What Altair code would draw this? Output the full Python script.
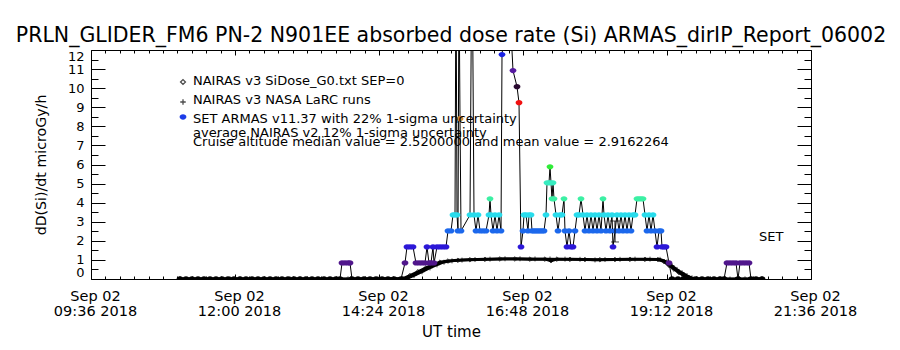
import altair as alt
import pandas as pd

FONT = "DejaVu Sans"

# ---------------- data ----------------
title_text = "PRLN_GLIDER_FM6 PN-2 N901EE absorbed dose rate (Si) ARMAS_dirIP_Report_06002"

# SET ARMAS v11.37 dose rate samples (UT, microGy/h)
armas_time = [
    "11:05", "11:11", "11:17", "11:23", "11:29", "11:35", "11:41", "11:47", "11:53", "11:59",
    "12:05", "12:11", "12:17", "12:23", "12:29", "12:35", "12:41", "12:47", "12:53", "12:59",
    "13:05", "13:11", "13:17", "13:23", "13:29", "13:35", "13:41", "13:45", "13:47", "13:50",
    "13:53", "13:55", "13:57", "14:03", "14:09", "14:15", "14:21", "14:27", "14:33", "14:39",
    "14:46", "14:50", "14:52", "14:55", "14:58", "15:01", "15:04", "15:07", "15:10", "15:12",
    "15:14", "15:16", "15:18", "15:19", "15:22", "15:25", "15:28", "15:31", "15:33", "15:36",
    "15:38", "15:40", "15:41", "15:42", "15:43", "15:44", "15:45", "15:46",
    "15:55", "15:57", "15:59", "16:01", "16:03", "16:05", "16:08", "16:11", "16:14", "16:15",
    "16:16", "16:18", "16:20", "16:22", "16:24", "16:26", "16:27", "16:34", "16:38", "16:42",
    "16:44", "16:46",
    "16:48", "16:49", "16:51", "16:53", "16:54", "16:56", "16:57", "16:59", "17:01", "17:03",
    "17:05", "17:07", "17:09", "17:11", "17:12", "17:14", "17:15", "17:16", "17:17", "17:18",
    "17:19", "17:21", "17:23", "17:25", "17:27", "17:29", "17:30", "17:32", "17:34", "17:36",
    "17:38", "17:40", "17:42", "17:44", "17:46", "17:48", "17:50", "17:52", "17:54", "17:56",
    "17:58", "18:00", "18:02", "18:04", "18:06", "18:08", "18:09", "18:11", "18:13", "18:15",
    "18:17", "18:18", "18:20", "18:22", "18:24", "18:26", "18:28", "18:30", "18:32", "18:34",
    "18:36", "18:38", "18:40", "18:42", "18:44", "18:46", "18:48", "18:50", "18:52", "18:54",
    "18:56", "18:58", "19:00", "19:02", "19:04", "19:06", "19:07", "19:09", "19:11", "19:14",
    "19:17", "19:23", "19:29", "19:35", "19:41", "19:47", "19:53", "19:59", "20:05", "20:09",
    "20:12", "20:15", "20:18", "20:21", "20:23", "20:25", "20:28", "20:31", "20:34", "20:36",
    "20:41", "20:47",
]
armas_dose = [
    0, 0, 0, 0, 0, 0, 0, 0, 0, 0,
    0, 0, 0, 0, 0, 0, 0, 0, 0, 0,
    0, 0, 0, 0, 0, 0, 0, 0, 0.84, 0.84,
    0.84, 0.84, 0, 0, 0, 0, 0, 0, 0, 0,
    0, 0.84, 1.68, 1.68, 1.68, 0.84, 0.84, 0.84, 0.84, 1.68,
    0.84, 0.84, 1.68, 0.84, 1.68, 1.68, 1.68, 1.68, 2.52, 2.52,
    3.36, 3.36, 16.80, 3.36, 2.52, 15.96, 8.40, 2.52,
    3.36, 18.48, 3.36, 2.52, 3.36, 2.52, 2.52, 2.52, 3.36, 4.20,
    3.36, 2.52, 3.36, 2.52, 3.36, 2.52, 11.76, 15.12, 10.92, 10.08,
    9.24, 1.68,
    2.52, 3.36, 3.36, 2.52, 3.36, 3.36, 2.52, 2.52, 2.52, 2.52,
    2.52, 2.52, 2.52, 3.36, 5.04, 5.04, 5.88, 5.04, 4.20, 5.04,
    4.20, 3.36, 2.52, 3.36, 3.36, 4.20, 2.52, 1.68, 2.52, 1.68,
    1.68, 2.52, 3.36, 3.36, 4.20, 3.36, 2.52, 3.36, 2.52, 3.36,
    2.52, 3.36, 2.52, 3.36, 2.52, 4.20, 3.36, 2.52, 3.36, 2.52,
    3.36, 1.68, 2.52, 3.36, 2.52, 3.36, 2.52, 3.36, 2.52, 3.36,
    2.52, 3.36, 3.36, 4.20, 4.20, 4.20, 4.20, 3.36, 2.52, 3.36,
    2.52, 3.36, 2.52, 1.68, 2.52, 2.52, 1.68, 1.68, 1.68, 0.84,
    0, 0, 0, 0, 0, 0, 0, 0, 0, 0,
    0.84, 0.84, 0.84, 0.84, 0, 0.84, 0.84, 0.84, 0.84, 0,
    0, 0,
]

# NAIRAS v3 SiDose_G0.txt SEP=0 (diamonds)
g0_time = ["11:05", "11:55", "12:55", "13:53", "14:48", "14:55", "15:03", "15:11", "15:18", "15:25",
           "15:33", "15:43", "15:55", "16:10", "16:25", "16:40", "16:55", "17:10", "17:16", "17:22",
           "17:35", "17:50", "18:05", "18:20", "18:35", "18:50", "19:03", "19:09", "19:14", "19:19",
           "19:24", "19:29", "19:34", "19:39", "20:05", "20:30", "20:47"]
g0_dose = [0.0, 0.0, 0.0, 0.0, 0.02, 0.18, 0.38, 0.58, 0.74, 0.88,
           0.94, 0.98, 1.01, 1.03, 1.05, 1.05, 1.04, 1.04, 0.96, 1.04,
           1.03, 1.02, 1.01, 1.02, 1.03, 1.03, 1.02, 0.92, 0.72, 0.52,
           0.34, 0.18, 0.06, 0.0, 0.0, 0.0, 0.0]

# NAIRAS v3 NASA LaRC runs (plus signs)
larc_time = ["11:05", "12:05", "13:05", "14:23", "14:52", "14:59", "15:07", "15:15", "15:22", "15:29",
             "15:37", "15:47", "16:00", "16:15", "16:30", "16:45", "17:00", "17:15", "17:30", "17:45",
             "18:00", "18:10", "18:25", "18:40", "18:55", "19:05", "19:12", "19:17", "19:22", "19:27",
             "19:32", "19:37", "19:42", "20:15", "20:47"]
larc_dose = [0.0, 0.0, 0.0, 0.0, 0.02, 0.18, 0.38, 0.58, 0.74, 0.88,
             0.95, 0.99, 1.02, 1.04, 1.06, 1.06, 1.05, 1.05, 1.04, 1.03,
             1.00, 1.02, 1.03, 1.04, 1.04, 1.03, 0.90, 0.70, 0.50, 0.33,
             0.18, 0.06, 0.0, 0.0, 0.0]

# average NAIRAS v2 with 12% 1-sigma uncertainty
nv2_time = ["18:20"]
nv2_mean = [2.49]
nv2_low = [1.94]
nv2_high = [3.04]

legend_lines = [
    "NAIRAS v3 SiDose_G0.txt SEP=0",
    "NAIRAS v3 NASA LaRC runs",
    "SET ARMAS v11.37 with 22% 1-sigma uncertainty",
    "average NAIRAS v2 12% 1-sigma uncertainty",
    "Cruise altitude median value = 2.5200000 and mean value = 2.9162264",
]
set_label = "SET"

x_tick_times = ["09:36", "12:00", "14:24", "16:48", "19:12", "21:36"]
x_tick_date = "Sep 02"
x_tick_year = "2018"
y_ticks = list(range(0, 13))

# colour table for the ARMAS dose levels
dose_levels = ["0.00", "0.84", "1.68", "2.52", "3.36", "4.20", "5.04", "5.88", "8.40", "9.24",
               "10.08", "10.92", "11.76", "15.12", "15.96", "16.80", "18.48"]
level_colors = ["#000000", "#50168c", "#2c18d8", "#1c68ec", "#28dcec", "#3cf0a4", "#38ecc0", "#30ec38",
                "#d08838", "#f01010", "#2a0a30", "#561aa0", "#1a22e4", "#000000", "#000000", "#000000", "#000000"]


def tmin(s):
    h, m = s.split(":")
    return int(h) * 60 + int(m)


armas_df = pd.DataFrame({
    "t": [tmin(s) for s in armas_time],
    "v": armas_dose,
    "lvl": [f"{d:.2f}" for d in armas_dose],
    "i": list(range(len(armas_time))),
})
g0_df = pd.DataFrame({"t": [tmin(s) for s in g0_time], "v": g0_dose})
larc_df = pd.DataFrame({"t": [tmin(s) for s in larc_time], "v": larc_dose})
nv2_df = pd.DataFrame({"t": [tmin(s) for s in nv2_time], "v": nv2_mean, "lo": nv2_low, "hi": nv2_high})

x0 = tmin(x_tick_times[0])
x1 = tmin(x_tick_times[-1])
x_major = [tmin(s) for s in x_tick_times]
x_step = (x_major[1] - x_major[0]) / 10.0
x_minor = [x0 + k * x_step for k in range(0, 51) if k % 10 != 0]
y_minor = [k + 0.5 for k in range(0, 12)]

W, H = 720, 229
xs = alt.Scale(domain=[x0, x1], zero=False, nice=False)
ys = alt.Scale(domain=[0, 12], zero=False, nice=False)

ELLIPSE = "M-1,0A1,0.78,0,1,1,1,0A1,0.78,0,1,1,-1,0Z"
PLUS = "M-1,0L1,0M0,-1L0,1"

axis_df = pd.DataFrame({"t": [x0], "v": [0]})


def axis_layer(xaxis, yaxis):
    return alt.Chart(axis_df).mark_point(opacity=0).encode(
        x=alt.X("t:Q", scale=xs, axis=xaxis),
        y=alt.Y("v:Q", scale=ys, axis=yaxis),
    )


def tick_axis(orient, values, size, offset):
    # ticks drawn from the opposite edge so that they point into the plot
    return alt.Axis(orient=orient, values=values, tickSize=size, offset=offset, labels=False,
                    domain=False, grid=False, tickColor="black", tickWidth=1, title=None, zindex=1)


label_layer = axis_layer(
    alt.Axis(orient="bottom", values=x_major, ticks=False, domain=False, grid=False,
             labelExpr=f"['{x_tick_date}', format(floor(datum.value/60),'02d') + ':' + format(datum.value % 60,'02d') + ' {x_tick_year}']",
             labelFont=FONT, labelFontSize=14.5, labelColor="black", labelPadding=10, labelLineHeight=15,
             labelBaseline="top", labelFlush=False, labelOverlap=False, labelOffset=4,
             title="UT time", titleFont=FONT, titleFontSize=15, titleFontWeight="normal", titleColor="black",
             titlePadding=7),
    alt.Axis(orient="left", values=y_ticks, ticks=False, domain=False, grid=False, format="d",
             labelFont=FONT, labelFontSize=13, labelColor="black", labelPadding=7, labelFlush=True,
             labelOverlap=False,
             title="dD(Si)/dt microGy/h", titleFont=FONT, titleFontSize=14.2, titleFontWeight="normal",
             titleColor="black", titlePadding=19),
)
# bottom edge & left edge ticks (pointing inward)
maj_a = axis_layer(tick_axis("top", x_major, 5, -H), tick_axis("right", y_ticks, 14, -W))
min_a = axis_layer(tick_axis("top", x_minor, 3, -H), tick_axis("right", y_minor, 7, -W))
# top edge & right edge ticks (pointing inward)
maj_b = axis_layer(tick_axis("bottom", x_major, 5, -H), tick_axis("left", y_ticks, 14, -W))
min_b = axis_layer(tick_axis("bottom", x_minor, 3, -H), tick_axis("left", y_minor, 7, -W))

# NAIRAS model curves
g0_line = alt.Chart(g0_df).mark_line(color="black", strokeWidth=3, clip=True).encode(
    x=alt.X("t:Q", scale=xs, axis=None), y=alt.Y("v:Q", scale=ys, axis=None))
g0_pts = alt.Chart(g0_df).mark_point(shape="diamond", size=22, color="black", filled=False,
                                     strokeWidth=1, clip=True).encode(
    x=alt.X("t:Q", scale=xs, axis=None), y=alt.Y("v:Q", scale=ys, axis=None))
larc_line = alt.Chart(larc_df).mark_line(color="black", strokeWidth=2.5, clip=True).encode(
    x=alt.X("t:Q", scale=xs, axis=None), y=alt.Y("v:Q", scale=ys, axis=None))
larc_pts = alt.Chart(larc_df).mark_point(shape=PLUS, size=25, color="black", filled=False,
                                         strokeWidth=1, clip=True).encode(
    x=alt.X("t:Q", scale=xs, axis=None), y=alt.Y("v:Q", scale=ys, axis=None))

# ARMAS series: thin connecting line + coloured symbols
armas_line = alt.Chart(armas_df).mark_line(color="black", strokeWidth=1, clip=True).encode(
    x=alt.X("t:Q", scale=xs, axis=None), y=alt.Y("v:Q", scale=ys, axis=None), order="i:Q")
armas_pts = alt.Chart(armas_df).mark_point(shape=ELLIPSE, size=46, filled=True, opacity=1,
                                           strokeWidth=0, clip=True).encode(
    x=alt.X("t:Q", scale=xs, axis=None), y=alt.Y("v:Q", scale=ys, axis=None),
    color=alt.Color("lvl:N", scale=alt.Scale(domain=dose_levels, range=level_colors), legend=None))

# NAIRAS v2 average with uncertainty bar
nv2_rule = alt.Chart(nv2_df).mark_rule(color="black", strokeWidth=1).encode(
    x=alt.X("t:Q", scale=xs, axis=None), y=alt.Y("lo:Q", scale=ys, axis=None), y2="hi:Q")
nv2_cap_hi = alt.Chart(nv2_df).mark_tick(color="black", orient="horizontal", size=10, thickness=1).encode(
    x=alt.X("t:Q", scale=xs, axis=None), y=alt.Y("hi:Q", scale=ys, axis=None))
nv2_cap_lo = alt.Chart(nv2_df).mark_tick(color="black", orient="horizontal", size=8, thickness=1).encode(
    x=alt.X("t:Q", scale=xs, axis=None), y=alt.Y("lo:Q", scale=ys, axis=None))

# in-plot legend
one = pd.DataFrame({"a": [0]})
leg_y = [31, 50, 69, 83, 92]
leg_texts = [
    alt.Chart(one).mark_text(align="left", baseline="middle", font=FONT, fontSize=13, color="black").encode(
        x=alt.value(102), y=alt.value(yy), text=alt.value(txt))
    for txt, yy in zip(legend_lines, leg_y)
]
leg_diamond = alt.Chart(one).mark_point(shape="diamond", size=24, color="black", filled=False, strokeWidth=1.3).encode(
    x=alt.value(92), y=alt.value(32))
leg_plus = alt.Chart(one).mark_point(shape=PLUS, size=30, color="black", filled=False, strokeWidth=1.3).encode(
    x=alt.value(92), y=alt.value(52))
leg_sym = alt.Chart(one).mark_point(shape=ELLIPSE, size=46, filled=True, color="#1c3ce8", opacity=1).encode(
    x=alt.value(92), y=alt.value(67))
set_text = alt.Chart(one).mark_text(align="left", baseline="middle", font=FONT, fontSize=13, color="black").encode(
    x=alt.value(668), y=alt.value(187), text=alt.value(set_label))

chart = alt.layer(
    label_layer, maj_a, min_a, maj_b, min_b,
    g0_line, larc_line, g0_pts, larc_pts,
    armas_line, armas_pts,
    nv2_rule, nv2_cap_hi, nv2_cap_lo,
    *leg_texts, leg_diamond, leg_plus, leg_sym, set_text,
).resolve_axis(x="independent", y="independent").properties(
    width=W, height=H,
    title=alt.TitleParams(title_text, font=FONT, fontSize=20.5, fontWeight="normal", color="black",
                          anchor="middle", baseline="alphabetic", offset=6, dy=19),
    autosize=alt.AutoSizeParams(type="none"),
    padding={"left": 91, "top": 50, "right": 89, "bottom": 71},
    background="white",
).configure_view(stroke="black", strokeWidth=1)

chart.save("out.html", embed_options={"renderer": "svg", "actions": False})
